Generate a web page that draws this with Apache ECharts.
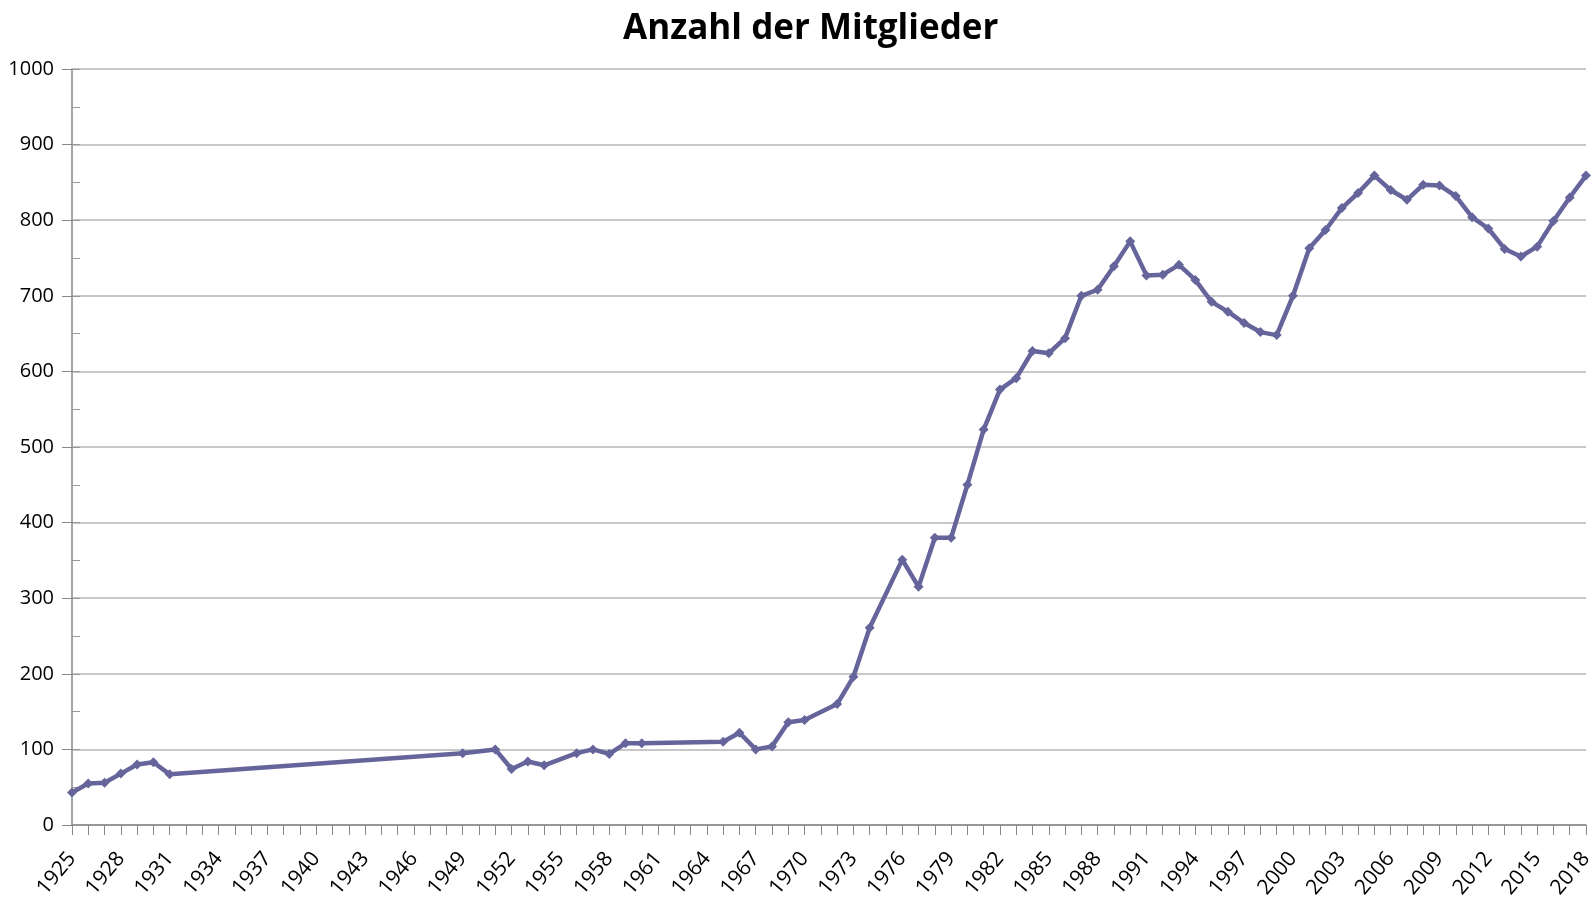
<!DOCTYPE html>
<html><head><meta charset="utf-8">
<script src="https://cdn.jsdelivr.net/npm/echarts@6/dist/echarts.min.js"></script>
<style>html,body{margin:0;padding:0;background:#fff}#c{width:1596px;height:899px}</style>
</head><body><div id="c"></div>
<script>
const title = 'Anzahl der Mitglieder';
const firstYear = 1925, lastYear = 2018;
const years = [1925,1926,1927,1928,1929,1930,1931,1949,1951,1952,1953,1954,1956,1957,1958,1959,1960,1965,1966,1967,1968,1969,1970,1972,1973,1974,1976,1977,1978,1979,1980,1981,1982,1983,1984,1985,1986,1987,1988,1989,1990,1991,1992,1993,1994,1995,1996,1997,1998,1999,2000,2001,2002,2003,2004,2005,2006,2007,2008,2009,2010,2011,2012,2013,2014,2015,2016,2017,2018];
const members = [43,55,56,68,80,83,67,95,100,74,84,79,95,100,94,108,108,110,122,100,104,136,139,160,196,261,351,315,380,380,450,523,576,591,627,624,644,700,708,739,772,727,728,741,721,692,679,664,652,648,700,763,787,816,836,859,840,827,847,846,832,804,789,762,752,765,799,830,859];
const yTicks = [0,100,200,300,400,500,600,700,800,900,1000];

const categories = [];
for (let y = firstYear; y <= lastYear; y++) categories.push(String(y));
const seriesData = categories.map(c => { const i = years.indexOf(+c); return i >= 0 ? members[i] : null; });

const chart = echarts.init(document.getElementById('c'));
const font = '"Open Sans", sans-serif';
chart.setOption({
  animation: false,
  title: { text: title, left: 618, top: 7,
    textStyle: { fontFamily: font, fontWeight: 'bold', fontSize: 35, color: '#000' } },
  grid: { left: 72, right: 10, top: 69, bottom: 74, containLabel: false, outerBoundsMode: 'none' },
  xAxis: {
    type: 'category', data: categories, boundaryGap: false,
    axisLine: { lineStyle: { color: '#888', width: 1.5 } },
    axisTick: { show: true, interval: 0, length: 10, lineStyle: { color: '#888' } },
    axisLabel: { interval: 2, rotate: 50, fontFamily: font, fontSize: 21, color: '#000', margin: 30 },
    splitLine: { show: false }
  },
  yAxis: [{
    type: 'value', min: yTicks[0], max: yTicks[yTicks.length-1], interval: 100,
    axisLine: { show: true, lineStyle: { color: '#888', width: 1.5 } },
    axisTick: { show: true, length: 10, lineStyle: { color: '#888' } },
    axisLabel: { fontFamily: font, fontSize: 20, color: '#000', margin: 18, formatter: v => String(v) },
    splitLine: { lineStyle: { color: '#b4b4b4', width: 1.5 } }
  }, {
    type: 'value', position: 'left', min: yTicks[0], max: yTicks[yTicks.length-1], interval: 50,
    axisLine: { show: false },
    axisTick: { show: true, inside: true, length: 8, lineStyle: { color: '#999' } },
    axisLabel: { show: false }, splitLine: { show: false }
  }],
  series: [{
    type: 'line', data: seriesData, connectNulls: true,
    symbol: 'diamond', symbolSize: 10, showSymbol: true,
    lineStyle: { color: '#65659c', width: 4.5 },
    itemStyle: { color: '#65659c' }
  }]
});
</script></body></html>
